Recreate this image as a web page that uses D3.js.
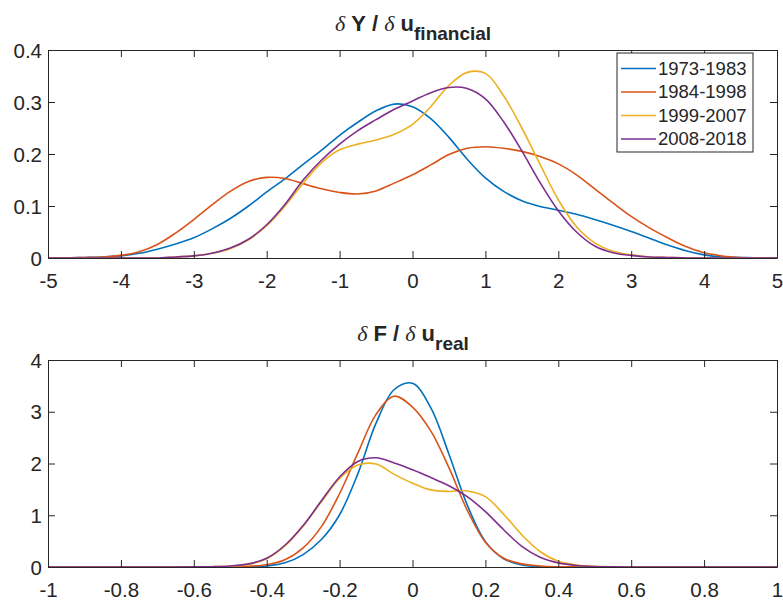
<!DOCTYPE html>
<html>
<head>
<meta charset="utf-8">
<script src="https://cdn.jsdelivr.net/npm/d3@7"></script>
<style>
    body { margin: 0; background: #fff; }
    text { font-family: "Liberation Sans", Arial, sans-serif; fill: #262626; }
</style>
</head>
<body>
<div id="container"></div>
<script>

var width = 783,
    height = 602;

var seriesNames = ["1973-1983", "1984-1998", "1999-2007", "2008-2018"];
var colors = ["#0072BD", "#D95319", "#EDB120", "#7E2F8E"];

// top panel: dY / du_financial
var topX = [-5, -4.75, -4.5, -4.25, -4, -3.75, -3.5, -3.25, -3, -2.75, -2.5, -2.25, -2, -1.75, -1.5, -1.25, -1, -0.75, -0.5, -0.25,
    0, 0.25, 0.5, 0.75, 1, 1.25, 1.5, 1.75, 2, 2.25, 2.5, 2.75, 3, 3.25, 3.5, 3.75, 4, 4.25, 4.5, 4.75, 5];
var top1973 = [0, 0, 0.001, 0.002, 0.004, 0.009, 0.017, 0.027, 0.039, 0.056, 0.076, 0.100, 0.127, 0.152, 0.180, 0.207, 0.236, 0.261, 0.283, 0.296,
    0.291, 0.268, 0.232, 0.190, 0.154, 0.128, 0.110, 0.099, 0.092, 0.084, 0.074, 0.063, 0.051, 0.038, 0.025, 0.014, 0.006, 0.002, 0.001, 0, 0];
var top1984 = [0, 0, 0.001, 0.002, 0.005, 0.012, 0.026, 0.048, 0.074, 0.102, 0.128, 0.147, 0.155, 0.153, 0.143, 0.133, 0.126, 0.123, 0.129, 0.144,
    0.160, 0.179, 0.199, 0.211, 0.214, 0.211, 0.205, 0.195, 0.181, 0.160, 0.133, 0.106, 0.080, 0.058, 0.039, 0.022, 0.010, 0.004, 0.001, 0, 0];
var top1999 = [0, 0, 0, 0, 0, 0, 0, 0.002, 0.004, 0.009, 0.018, 0.035, 0.062, 0.100, 0.144, 0.183, 0.208, 0.219, 0.227, 0.238,
    0.257, 0.291, 0.332, 0.357, 0.355, 0.312, 0.250, 0.180, 0.112, 0.060, 0.029, 0.013, 0.006, 0.002, 0.001, 0, 0, 0, 0, 0, 0];
var top2008 = [0, 0, 0, 0, 0, 0, 0, 0.002, 0.004, 0.009, 0.019, 0.036, 0.064, 0.103, 0.150, 0.188, 0.219, 0.245, 0.266, 0.286,
    0.302, 0.318, 0.328, 0.326, 0.306, 0.262, 0.206, 0.145, 0.091, 0.050, 0.023, 0.010, 0.005, 0.002, 0.001, 0, 0, 0, 0, 0, 0];

// bottom panel: dF / du_real
var botX = [-1, -0.95, -0.9, -0.85, -0.8, -0.75, -0.7, -0.65, -0.6, -0.55, -0.5, -0.45, -0.4, -0.35, -0.3, -0.25, -0.2, -0.15, -0.1, -0.05,
    0, 0.05, 0.1, 0.15, 0.2, 0.25, 0.3, 0.35, 0.4, 0.45, 0.5, 0.55, 0.6, 0.65, 0.7, 0.75, 0.8, 0.85, 0.9, 0.95, 1];
var bot1973 = [0, 0, 0, 0, 0, 0, 0, 0, 0, 0, 0.001, 0.004, 0.02, 0.08, 0.24, 0.53, 1.01, 1.80, 2.78, 3.43,
    3.55, 3.08, 2.18, 1.20, 0.49, 0.16, 0.04, 0.01, 0.002, 0, 0, 0, 0, 0, 0, 0, 0, 0, 0, 0, 0];
var bot1984 = [0, 0, 0, 0, 0, 0, 0, 0, 0, 0.001, 0.004, 0.015, 0.045, 0.14, 0.37, 0.78, 1.42, 2.20, 2.95, 3.30,
    3.09, 2.63, 1.92, 1.10, 0.48, 0.17, 0.06, 0.02, 0.005, 0.001, 0, 0, 0, 0, 0, 0, 0, 0, 0, 0, 0];
var bot1999 = [0, 0, 0, 0, 0, 0, 0, 0, 0.001, 0.005, 0.015, 0.05, 0.16, 0.41, 0.79, 1.26, 1.71, 1.97, 1.99, 1.79,
    1.62, 1.49, 1.46, 1.47, 1.36, 1.02, 0.62, 0.30, 0.11, 0.04, 0.012, 0.003, 0.001, 0, 0, 0, 0, 0, 0, 0, 0];
var bot2008 = [0, 0, 0, 0, 0, 0, 0, 0, 0.002, 0.006, 0.02, 0.06, 0.17, 0.42, 0.80, 1.28, 1.74, 2.04, 2.11, 2.01,
    1.88, 1.73, 1.57, 1.36, 1.07, 0.72, 0.40, 0.19, 0.08, 0.03, 0.01, 0.003, 0.001, 0, 0, 0, 0, 0, 0, 0, 0];

var topTicksX = [-5, -4, -3, -2, -1, 0, 1, 2, 3, 4, 5];
var topTicksY = [0, 0.1, 0.2, 0.3, 0.4];
var botTicksX = [-1, -0.8, -0.6, -0.4, -0.2, 0, 0.2, 0.4, 0.6, 0.8, 1];
var botTicksY = [0, 1, 2, 3, 4];

var svg = d3.select("#container")
    .append("svg")
    .attr("width", width)
    .attr("height", height);

svg.append("rect")
    .attr("width", width)
    .attr("height", height)
    .attr("fill", "white");

// matlab prints a plain hyphen, not the unicode minus d3.format gives
var plain = function (d) { return String(d); };

function drawPanel(opts) {

    var x = d3.scaleLinear().domain(opts.xDomain).range([48, 777]);
    var y = d3.scaleLinear().domain(opts.yDomain).range([opts.bottom, opts.top]);
    var g = svg.append("g");
    var tickLen = 7;

    var line = d3.line()
        .x(function (d) { return x(d[0]); })
        .y(function (d) { return y(d[1]); })
        .curve(d3.curveCatmullRom.alpha(0.5));

    opts.series.forEach(function (s, i) {
        g.append("path")
            .datum(opts.xs.map(function (v, j) { return [v, s[j]]; }))
            .attr("d", line)
            .attr("fill", "none")
            .attr("stroke", colors[i])
            .attr("stroke-width", 1.6);
    });

    // axes with inward ticks on all four sides (matlab box)
    var bottomAxis = d3.axisBottom(x).tickValues(opts.xTicks).tickSizeInner(-tickLen).tickSizeOuter(0).tickFormat(plain);
    var topAxis = d3.axisTop(x).tickValues(opts.xTicks).tickSizeInner(-tickLen).tickSizeOuter(0).tickFormat("");
    var leftAxis = d3.axisLeft(y).tickValues(opts.yTicks).tickSizeInner(-tickLen).tickSizeOuter(0).tickFormat(plain);
    var rightAxis = d3.axisRight(y).tickValues(opts.yTicks).tickSizeInner(-tickLen).tickSizeOuter(0).tickFormat("");

    var gb = g.append("g").attr("transform", "translate(0," + opts.bottom + ")").call(bottomAxis);
    var gt = g.append("g").attr("transform", "translate(0," + opts.top + ")").call(topAxis);
    var gl = g.append("g").attr("transform", "translate(48,0)").call(leftAxis);
    var gr = g.append("g").attr("transform", "translate(777,0)").call(rightAxis);

    [gb, gt, gl, gr].forEach(function (a) {
        a.select(".domain").attr("stroke", "#262626").attr("stroke-width", 1);
        a.selectAll(".tick line").attr("stroke", "#262626").attr("stroke-width", 1);
        a.selectAll("text")
            .attr("font-family", "Liberation Sans, Arial, sans-serif")
            .attr("font-size", "20.5px")
            .attr("fill", "#262626");
    });
    gb.selectAll(".tick text").attr("y", 15).attr("dy", "0.71em");
    gl.selectAll(".tick text").attr("x", -6).attr("dy", "0.35em");

    var title = svg.append("text")
        .attr("x", 413)
        .attr("y", opts.top - 19)
        .attr("text-anchor", "middle")
        .attr("font-size", "22px")
        .attr("font-weight", "bold")
        .attr("fill", "black");
    title.append("tspan").attr("font-family", "Liberation Serif, serif").attr("font-style", "italic").attr("font-weight", "normal").text("δ");
    title.append("tspan").text("\u00a0" + opts.num + "\u00a0/\u00a0");
    title.append("tspan").attr("font-family", "Liberation Serif, serif").attr("font-style", "italic").attr("font-weight", "normal").text("δ");
    title.append("tspan").text("\u00a0u");
    title.append("tspan").attr("font-size", "19px").attr("dy", 9).text(opts.sub);

    return g;
}

drawPanel({
    xDomain: [-5, 5], yDomain: [0, 0.4], top: 50, bottom: 258,
    xs: topX, series: [top1973, top1984, top1999, top2008],
    xTicks: topTicksX, yTicks: topTicksY,
    num: "Y", sub: "financial"
});

drawPanel({
    xDomain: [-1, 1], yDomain: [0, 4], top: 360, bottom: 567,
    xs: botX, series: [bot1973, bot1984, bot1999, bot2008],
    xTicks: botTicksX, yTicks: botTicksY,
    num: "F", sub: "real"
});

// legend in the top panel
var legend = svg.append("g").attr("transform", "translate(617,53)");

legend.append("rect")
    .attr("width", 136)
    .attr("height", 99)
    .attr("fill", "white")
    .attr("stroke", "#262626")
    .attr("stroke-width", 1);

seriesNames.forEach(function (name, i) {
    var ly = 15.5 + i * 23.5;
    legend.append("line")
        .attr("x1", 4).attr("x2", 39)
        .attr("y1", ly).attr("y2", ly)
        .attr("stroke", colors[i])
        .attr("stroke-width", 1.6);
    legend.append("text")
        .attr("x", 41)
        .attr("y", ly)
        .attr("dy", "0.35em")
        .attr("font-size", "18.5px")
        .attr("fill", "black")
        .text(name);
});

</script>
</body>
</html>
